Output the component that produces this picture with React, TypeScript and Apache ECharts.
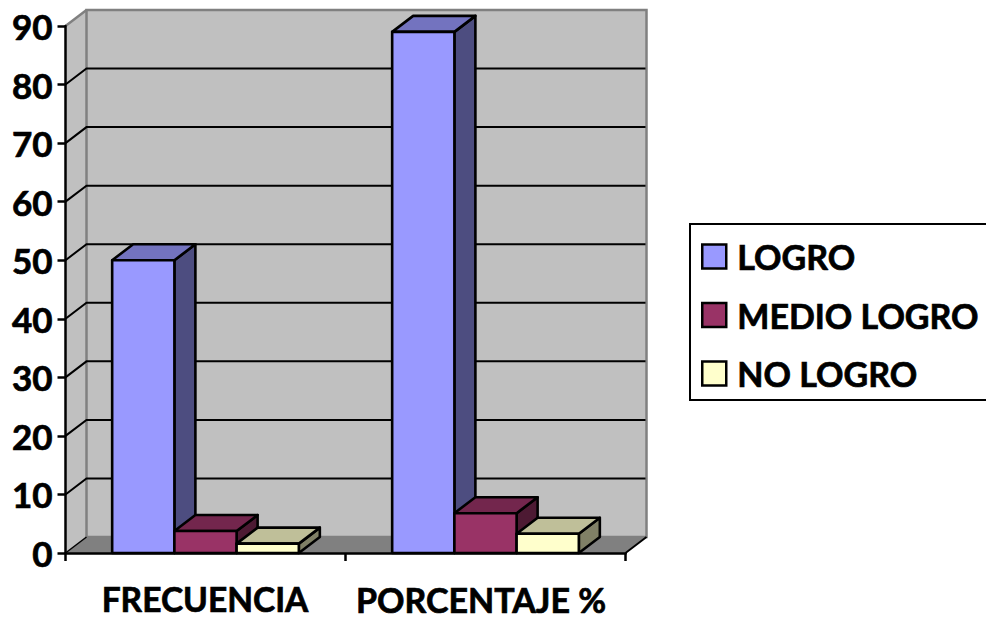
import React, { useEffect, useRef } from "react";
import * as echarts from "echarts";

const categories = ["FRECUENCIA", "PORCENTAJE %"];
const seriesNames = ["LOGRO", "MEDIO LOGRO", "NO LOGRO"];
const logro = [50, 89];
const medioLogro = [3.75, 6.8];
const noLogro = [1.6, 3.3];
const gridTicks = [10, 20, 30, 40, 50, 60, 70, 80];

const frontColors = ["#9999FF", "#993366", "#FFFFCC"];
const topColors = ["#7373BF", "#73264D", "#BFBF99"];
const sideColors = ["#4D4D80", "#4D1A33", "#808066"];
const DX = 21;
const DY = -16;
const FONT = "Lato, 'Open Sans', sans-serif";
const FONT_SIZE = 34;
const heavy = { textBorderColor: "#000", textBorderWidth: 0.7 };

function barSeries(idx: number, values: number[]) {
  return {
    type: "custom",
    name: seriesNames[idx],
    z: 3,
    silent: true,
    itemStyle: { color: frontColors[idx] },
    data: values.map((v, i) => [i, v]),
    renderItem: (_p: any, api: any) => {
      const band = api.size([1, 0])[0];
      const w = band / 4.5;
      const base = api.coord([api.value(0), 0]);
      const top = api.coord([api.value(0), api.value(1)]);
      const x0 = base[0] - 1.5 * w + idx * w;
      const x1 = x0 + w;
      const yB = base[1];
      const yT = top[1];
      const stroke = { stroke: "#000", lineWidth: 2.6, lineJoin: "round" };
      return {
        type: "group",
        children: [
          {
            type: "polygon",
            shape: { points: [[x1, yB], [x1 + DX, yB + DY], [x1 + DX, yT + DY], [x1, yT]] },
            style: { fill: sideColors[idx], ...stroke },
          },
          {
            type: "polygon",
            shape: { points: [[x0, yT], [x0 + DX, yT + DY], [x1 + DX, yT + DY], [x1, yT]] },
            style: { fill: topColors[idx], ...stroke },
          },
          {
            type: "rect",
            shape: { x: x0, y: yT, width: w, height: yB - yT },
            style: { fill: frontColors[idx], ...stroke },
          },
        ],
      };
    },
  };
}

export default function App() {
  const ref = useRef<HTMLDivElement>(null);
  useEffect(() => {
    document.body.style.margin = "0";
    const chart = echarts.init(ref.current!, undefined, { renderer: "svg" });
    chart.setOption({
      animation: false,
      backgroundColor: "#fff",
      grid: { left: 65.5, right: 360.5, top: 26, bottom: 68, containLabel: false },
      legend: {
        left: 690,
        top: 224,
        orient: "vertical",
        data: seriesNames,
        icon: "rect",
        itemWidth: 24,
        itemHeight: 24,
        itemGap: 17.5,
        padding: [12, 30, 6, 11],
        borderColor: "#000",
        borderWidth: 2,
        selectedMode: false,
        itemStyle: { borderColor: "#000", borderWidth: 2.5 },
        textStyle: {
          color: "#000",
          fontFamily: FONT,
          fontWeight: "bold",
          fontSize: FONT_SIZE,
          padding: [0, 0, 0, 6],
          lineHeight: 41,
          ...heavy,
        },
      },
      xAxis: {
        type: "category",
        data: categories,
        z: 5,
        axisLine: { lineStyle: { color: "#000", width: 2.5 } },
        axisTick: { show: true, length: 8, lineStyle: { color: "#000", width: 2.5 } },
        axisLabel: {
          margin: 29,
          interval: 0,
          formatter: (v: string, i: number) => `{c${i}|${v}}`,
          rich: {
            c0: {
              color: "#000",
              fontFamily: FONT,
              fontWeight: "bold",
              fontSize: FONT_SIZE - 0.5,
              padding: [0, 1, 0, 0],
              ...heavy,
            },
            c1: {
              color: "#000",
              fontFamily: FONT,
              fontWeight: "bold",
              fontSize: FONT_SIZE,
              padding: [0, 9, 0, 0],
              ...heavy,
            },
          },
        },
      },
      yAxis: {
        type: "value",
        min: 0,
        max: 90,
        interval: 10,
        z: 5,
        axisLine: { show: true, lineStyle: { color: "#000", width: 2.5 } },
        axisTick: { show: true, length: 8, lineStyle: { color: "#000", width: 2.5 } },
        splitLine: { show: false },
        axisLabel: {
          color: "#000",
          fontFamily: FONT,
          fontWeight: "bold",
          fontSize: 35,
          margin: 13,
          ...heavy,
        },
      },
      series: [
        {
          type: "custom",
          name: "walls",
          z: 1,
          silent: true,
          data: [[0, 0]],
          renderItem: (p: any, api: any) => {
            const cs = p.coordSys;
            const o = api.coord([0, 0]);
            const yF = o[1];
            const yT = api.coord([0, 90])[1];
            const xL = cs.x;
            const xR = cs.x + cs.width;
            const edge = { stroke: "#808080", lineWidth: 2.5 };
            return {
              type: "group",
              children: [
                {
                  type: "polygon",
                  shape: { points: [[xL, yF], [xL + DX, yF + DY], [xL + DX, yT + DY], [xL, yT]] },
                  style: { fill: "#C0C0C0" },
                },
                {
                  type: "rect",
                  shape: { x: xL + DX, y: yT + DY, width: cs.width, height: yF - yT },
                  style: { fill: "#C0C0C0", ...edge },
                },
                {
                  type: "polygon",
                  shape: { points: [[xL, yF], [xL + DX, yF + DY], [xR + DX, yF + DY], [xR, yF]] },
                  style: { fill: "#808080" },
                },
                {
                  type: "line",
                  shape: { x1: xL, y1: yT, x2: xL + DX, y2: yT + DY },
                  style: edge,
                },
                {
                  type: "line",
                  shape: { x1: xR, y1: yF, x2: xR + DX, y2: yF + DY },
                  style: { stroke: "#000", lineWidth: 2 },
                },
                {
                  type: "line",
                  shape: { x1: xL, y1: yF, x2: xL + DX, y2: yF + DY },
                  style: { stroke: "#000", lineWidth: 1.5 },
                },
              ],
            };
          },
        },
        {
          type: "custom",
          name: "gridlines",
          z: 2,
          silent: true,
          data: gridTicks.map((t) => [0, t]),
          renderItem: (p: any, api: any) => {
            const cs = p.coordSys;
            const y = api.coord([0, api.value(1)])[1];
            const xL = cs.x;
            const xR = cs.x + cs.width;
            return {
              type: "polyline",
              shape: { points: [[xL, y], [xL + DX, y + DY], [xR + DX - 1, y + DY]] },
              style: { stroke: "#000", lineWidth: 2, fill: "none" },
            };
          },
        },
        barSeries(0, logro),
        barSeries(1, medioLogro),
        barSeries(2, noLogro),
      ],
    });
    return () => chart.dispose();
  }, []);
  return <div ref={ref} style={{ width: 986, height: 621 }} />;
}
